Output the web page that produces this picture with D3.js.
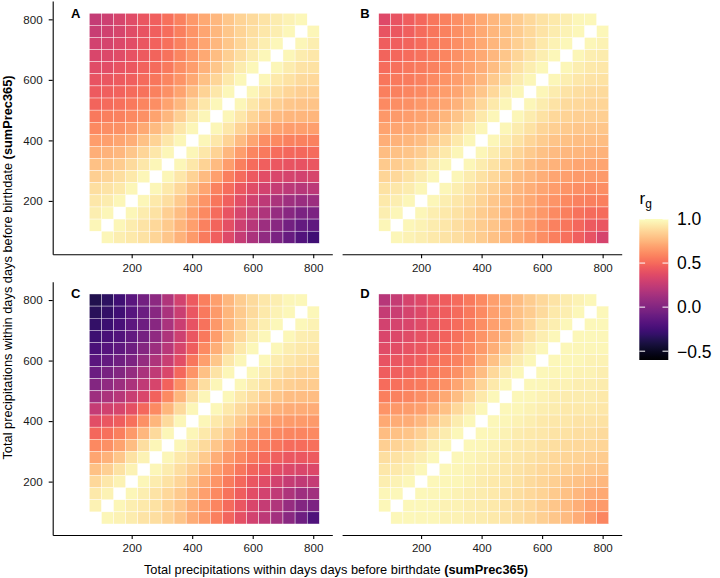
<!DOCTYPE html>
<html lang="en">
<head>
<meta charset="UTF-8">
<title>rg by precipitation window</title>
<script src="https://cdnjs.cloudflare.com/ajax/libs/d3/7.8.5/d3.min.js"></script>
<style>
    html, body { margin: 0; padding: 0; background: #fff; }
    svg { display: block; font-family: "Liberation Sans", Arial, Helvetica, sans-serif; }
</style>
</head>
<body>
<svg id="chart" width="720" height="578"></svg>
<script>
    // cell centres (mm), same bins on both axes
    const bins = [80, 120, 160, 200, 240, 280, 320, 360, 400, 440, 480, 520, 560, 600, 640, 680, 720, 760, 800];
    const axisTicks = [200, 400, 600, 800];
    const legendTicks = [1.0, 0.5, 0.0, -0.5];
    const panelLetters = ["A", "B", "C", "D"];
    const axisTitle = "Total precipitations within days days before birthdate ";
    const axisTitleBold = "(sumPrec365)";

    // rg values: rows go from 800 (top) down to 80, columns from 80 to 800; null = diagonal
    const rgA = [
        [.25,.29,.33,.37,.42,.46,.52,.58,.65,.71,.76,.81,.85,.88,.91,.94,.96,.98,null],
        [.27,.30,.33,.37,.41,.46,.51,.57,.64,.70,.76,.81,.85,.89,.92,.95,.98,null,.97],
        [.31,.32,.35,.38,.42,.47,.52,.58,.64,.70,.76,.81,.86,.91,.95,.98,null,.97,.95],
        [.34,.35,.37,.40,.44,.48,.53,.59,.65,.71,.78,.84,.89,.94,.98,null,.97,.94,.92],
        [.37,.38,.41,.43,.47,.50,.55,.62,.67,.74,.81,.88,.94,.98,null,.97,.94,.91,.90],
        [.41,.42,.44,.46,.50,.54,.59,.64,.71,.79,.86,.93,.98,null,.97,.93,.90,.88,.87],
        [.44,.46,.47,.50,.53,.58,.63,.69,.78,.85,.92,.98,null,.97,.92,.89,.86,.84,.84],
        [.48,.50,.52,.55,.59,.62,.69,.76,.85,.92,.98,null,.97,.92,.87,.84,.81,.80,.80],
        [.55,.57,.58,.60,.63,.69,.76,.84,.92,.97,null,.97,.92,.86,.81,.77,.75,.75,.75],
        [.60,.62,.63,.66,.71,.77,.84,.92,.97,null,.97,.92,.85,.79,.73,.69,.67,.68,.68],
        [.67,.68,.70,.73,.79,.85,.92,.97,null,.97,.92,.85,.77,.70,.62,.60,.58,.58,.58],
        [.73,.74,.76,.81,.86,.92,.97,null,.97,.92,.85,.76,.67,.59,.55,.51,.49,.49,.50],
        [.79,.80,.83,.88,.92,.97,null,.97,.92,.85,.77,.67,.57,.51,.46,.43,.41,.40,.42],
        [.84,.86,.89,.93,.97,null,.97,.92,.85,.77,.68,.57,.50,.44,.38,.34,.32,.31,.33],
        [.89,.91,.93,.97,null,.97,.93,.87,.79,.70,.58,.51,.43,.37,.31,.26,.22,.20,.22],
        [.92,.94,.97,null,.97,.93,.89,.82,.73,.64,.54,.46,.38,.30,.23,.16,.11,.09,.10],
        [.95,.97,null,.97,.94,.90,.84,.78,.69,.60,.50,.41,.33,.25,.17,.08,.02,-.03,-.02],
        [.97,null,.97,.94,.91,.87,.82,.75,.68,.58,.48,.39,.29,.20,.10,.02,-.06,-.12,-.14],
        [null,.97,.95,.93,.90,.86,.81,.74,.66,.56,.46,.36,.26,.16,.06,-.03,-.11,-.19,-.26]
    ];

    const rgB = [
        [.36,.41,.45,.49,.54,.58,.62,.66,.71,.75,.79,.83,.87,.90,.93,.95,.97,.98,null],
        [.41,.43,.46,.50,.54,.58,.62,.66,.71,.75,.79,.83,.87,.91,.94,.96,.98,null,.98],
        [.45,.46,.48,.51,.55,.58,.62,.66,.71,.75,.79,.84,.88,.93,.96,.98,null,.97,.96],
        [.48,.49,.51,.53,.56,.59,.63,.67,.71,.76,.81,.86,.91,.95,.98,null,.97,.95,.94],
        [.51,.52,.54,.56,.58,.61,.65,.69,.73,.78,.84,.90,.95,.98,null,.97,.95,.93,.92],
        [.54,.55,.56,.58,.61,.64,.67,.71,.76,.82,.88,.94,.97,null,.97,.95,.92,.91,.90],
        [.57,.58,.59,.61,.64,.67,.70,.75,.81,.87,.94,.97,null,.97,.94,.91,.89,.88,.88],
        [.61,.62,.63,.65,.68,.70,.74,.80,.87,.93,.97,null,.97,.94,.91,.88,.87,.86,.86],
        [.65,.66,.67,.69,.71,.75,.80,.86,.93,.97,null,.97,.94,.90,.87,.85,.84,.84,.84],
        [.69,.70,.71,.73,.76,.81,.87,.93,.97,null,.97,.94,.90,.86,.84,.82,.81,.81,.81],
        [.73,.74,.75,.78,.82,.87,.93,.97,null,.97,.94,.90,.86,.83,.80,.79,.78,.78,.78],
        [.78,.79,.80,.83,.88,.93,.97,null,.97,.94,.90,.86,.82,.79,.77,.76,.75,.74,.74],
        [.82,.83,.85,.89,.94,.97,null,.97,.94,.90,.86,.82,.78,.76,.74,.72,.70,.70,.70],
        [.86,.87,.90,.94,.97,null,.97,.94,.90,.87,.83,.78,.76,.73,.70,.68,.66,.66,.66],
        [.90,.92,.94,.97,null,.97,.95,.91,.87,.84,.79,.76,.73,.70,.67,.64,.62,.61,.62],
        [.93,.95,.97,null,.97,.95,.92,.89,.85,.81,.78,.74,.71,.67,.64,.60,.58,.57,.57],
        [.95,.97,null,.97,.95,.93,.90,.87,.83,.80,.76,.72,.69,.65,.61,.57,.53,.50,.50],
        [.97,null,.97,.96,.94,.92,.89,.86,.83,.80,.76,.72,.68,.63,.58,.54,.49,.44,.42],
        [null,.97,.96,.95,.93,.91,.89,.86,.83,.79,.75,.71,.67,.62,.57,.52,.46,.40,.32]
    ];

    const rgC = [
        [-.38,-.33,-.26,-.16,-.06,.04,.18,.31,.44,.57,.68,.76,.83,.88,.92,.95,.97,.98,null],
        [-.35,-.31,-.26,-.17,-.09,.02,.15,.28,.42,.55,.66,.75,.82,.88,.93,.96,.98,null,.98],
        [-.31,-.28,-.23,-.15,-.08,.02,.15,.28,.40,.53,.65,.75,.83,.90,.95,.98,null,.98,.96],
        [-.27,-.23,-.19,-.13,-.05,.05,.17,.29,.42,.55,.67,.79,.87,.94,.98,null,.98,.95,.94],
        [-.22,-.18,-.14,-.08,.01,.10,.21,.33,.45,.61,.73,.84,.93,.98,null,.98,.95,.93,.92],
        [-.16,-.12,-.07,-.02,.07,.17,.27,.38,.54,.68,.81,.92,.97,null,.98,.94,.92,.90,.89],
        [-.09,-.04,.00,.07,.15,.24,.34,.49,.64,.79,.91,.97,null,.98,.94,.91,.88,.86,.86],
        [.00,.05,.10,.16,.24,.33,.47,.62,.77,.89,.97,null,.98,.94,.90,.86,.84,.83,.83],
        [.11,.16,.20,.27,.34,.47,.61,.75,.89,.97,null,.98,.93,.89,.84,.81,.78,.78,.78],
        [.25,.30,.33,.39,.49,.61,.75,.88,.97,null,.98,.93,.88,.83,.77,.74,.72,.72,.72],
        [.38,.42,.45,.52,.63,.75,.88,.97,null,.97,.93,.88,.82,.75,.69,.67,.66,.66,.66],
        [.49,.52,.57,.66,.76,.88,.97,null,.97,.93,.88,.81,.73,.67,.64,.61,.59,.59,.60],
        [.60,.63,.69,.78,.89,.97,null,.97,.93,.88,.81,.72,.65,.60,.57,.54,.51,.51,.52],
        [.70,.74,.81,.90,.96,null,.97,.93,.89,.82,.73,.65,.60,.55,.50,.46,.43,.43,.44],
        [.79,.84,.90,.96,null,.97,.94,.89,.84,.75,.67,.61,.54,.48,.43,.38,.35,.34,.35],
        [.87,.92,.96,null,.97,.94,.90,.86,.79,.71,.64,.56,.49,.42,.37,.31,.26,.24,.25],
        [.93,.96,null,.97,.95,.91,.87,.82,.75,.68,.60,.53,.45,.38,.31,.24,.17,.11,.12],
        [.96,null,.97,.95,.93,.90,.85,.81,.73,.67,.59,.50,.42,.34,.26,.18,.08,.00,-.02],
        [null,.97,.96,.94,.91,.89,.85,.80,.72,.66,.57,.48,.39,.31,.23,.13,.03,-.08,-.20]
    ];

    const rgD = [
        [.20,.26,.32,.36,.41,.45,.50,.55,.61,.68,.73,.78,.83,.87,.91,.94,.96,.98,null],
        [.26,.28,.32,.36,.41,.45,.50,.55,.61,.68,.73,.79,.83,.88,.93,.95,.98,null,.98],
        [.31,.32,.34,.37,.41,.46,.51,.56,.62,.68,.73,.80,.86,.92,.95,.98,null,.98,.98],
        [.34,.35,.37,.40,.43,.47,.52,.58,.64,.70,.76,.84,.90,.95,.98,null,.98,.98,.97],
        [.37,.38,.40,.43,.46,.50,.55,.61,.66,.73,.81,.89,.95,.98,null,.98,.97,.97,.97],
        [.41,.42,.44,.46,.50,.54,.58,.63,.71,.79,.88,.94,.98,null,.98,.97,.97,.96,.96],
        [.45,.46,.48,.51,.54,.58,.63,.70,.78,.87,.94,.98,null,.98,.97,.97,.96,.96,.95],
        [.51,.52,.54,.56,.59,.63,.70,.77,.86,.93,.98,null,.98,.97,.96,.96,.95,.95,.94],
        [.57,.58,.59,.62,.65,.71,.78,.86,.93,.98,null,.98,.97,.96,.95,.94,.94,.94,.93],
        [.64,.65,.66,.68,.73,.79,.87,.93,.98,null,.98,.97,.96,.95,.94,.93,.93,.93,.92],
        [.71,.72,.72,.76,.81,.88,.94,.98,null,.98,.97,.96,.95,.93,.92,.92,.91,.91,.90],
        [.78,.79,.80,.84,.89,.94,.98,null,.98,.97,.96,.94,.93,.92,.91,.90,.89,.89,.88],
        [.84,.85,.87,.90,.95,.98,null,.98,.97,.96,.95,.93,.92,.90,.89,.88,.87,.87,.86],
        [.89,.90,.92,.95,.98,null,.98,.97,.96,.95,.93,.92,.90,.89,.87,.86,.85,.84,.83],
        [.92,.93,.95,.98,null,.98,.97,.96,.95,.94,.92,.91,.89,.87,.86,.84,.82,.81,.80],
        [.95,.96,.98,null,.98,.97,.97,.96,.94,.93,.92,.90,.88,.86,.84,.81,.79,.77,.76],
        [.97,.98,null,.98,.97,.97,.96,.95,.94,.93,.91,.89,.87,.85,.82,.79,.76,.72,.71],
        [.98,null,.98,.98,.97,.96,.96,.95,.94,.93,.91,.89,.87,.84,.81,.77,.73,.68,.66],
        [null,.98,.98,.97,.97,.96,.96,.95,.94,.93,.91,.89,.87,.84,.81,.77,.72,.66,.59]
    ];

    const svg = d3.select("#chart");

    const panelW = 279.6, panelH = 253.3;
    const panels = [
        {values: rgA, left: 52.7, top: 1, yAxis: true},
        {values: rgB, left: 342.1, top: 1, yAxis: false},
        {values: rgC, left: 52.7, top: 281.7, yAxis: true},
        {values: rgD, left: 342.1, top: 281.7, yAxis: false}
    ];

    const x = d3.scaleLinear().domain([-61, 863]).range([0, panelW]);
    const y = d3.scaleLinear().domain([23.6, 860.6]).range([panelH, 0]);
    const color = d3.scaleSequential(d3.interpolateMagma).domain([-0.6, 1.0]);
    const half = 20;
    const rowBins = bins.slice().reverse();

    function styleAxis(g) {
        g.attr("font-family", null).attr("font-size", 11.6);
        g.select(".domain").attr("stroke", "#000").attr("stroke-width", 1.1);
        g.selectAll(".tick line").attr("stroke", "#000").attr("stroke-width", 1.1);
        g.selectAll(".tick text").attr("fill", "#1a1a1a");
    }

    panels.forEach((p, i) => {
        const g = svg.append("g").attr("transform", `translate(${p.left},${p.top})`);

        const cells = [];
        p.values.forEach((row, r) => row.forEach((v, c) => {
            if (v !== null) cells.push({x: bins[c], y: rowBins[r], v: v});
        }));

        g.selectAll("rect.cell")
            .data(cells)
            .enter().append("rect")
            .attr("class", "cell")
            .attr("x", d => x(d.x - half))
            .attr("y", d => y(d.y + half))
            .attr("width", d => x(d.x + half) - x(d.x - half))
            .attr("height", d => y(d.y - half) - y(d.y + half))
            .attr("fill", d => color(d.v))
            .attr("stroke", "#fff")
            .attr("stroke-width", 0.4);

        g.append("g")
            .attr("transform", `translate(0,${panelH})`)
            .call(d3.axisBottom(x).tickValues(axisTicks).tickSize(4).tickSizeOuter(0).tickPadding(5))
            .call(styleAxis);

        if (p.yAxis) {
            g.append("g")
                .call(d3.axisLeft(y).tickValues(axisTicks).tickSize(4).tickSizeOuter(0).tickPadding(6))
                .call(styleAxis);
        }

        g.append("text")
            .attr("x", 18.2)
            .attr("y", 16.5)
            .attr("font-size", 13)
            .attr("font-weight", "bold")
            .attr("fill", "#000")
            .text(panelLetters[i]);
    });

    // axis titles
    const xTitle = svg.append("text")
        .attr("x", 336).attr("y", 573.5)
        .attr("text-anchor", "middle")
        .attr("font-size", 12.8).attr("fill", "#000");
    xTitle.append("tspan").text(axisTitle);
    xTitle.append("tspan").attr("font-weight", "bold").text(axisTitleBold);

    const yTitle = svg.append("text")
        .attr("transform", "translate(11.5,267.5) rotate(-90)")
        .attr("text-anchor", "middle")
        .attr("font-size", 12.8).attr("fill", "#000");
    yTitle.append("tspan").text(axisTitle);
    yTitle.append("tspan").attr("font-weight", "bold").text(axisTitleBold);

    // colour bar legend
    const barX = 639.3, barW = 29, barTop = 219, barBottom = 360;
    const legendY = d3.scaleLinear().domain([-0.6, 1.0]).range([barBottom, barTop]);

    const grad = svg.append("defs").append("linearGradient")
        .attr("id", "rg-grad")
        .attr("x1", 0).attr("y1", 1).attr("x2", 0).attr("y2", 0);
    d3.range(0, 1.0001, 0.02).forEach(t => {
        grad.append("stop").attr("offset", t).attr("stop-color", d3.interpolateMagma(t));
    });

    svg.append("rect")
        .attr("x", barX).attr("y", barTop)
        .attr("width", barW).attr("height", barBottom - barTop)
        .attr("fill", "url(#rg-grad)");

    const legendTick = svg.append("g").selectAll("g")
        .data(legendTicks)
        .enter().append("g")
        .attr("transform", d => `translate(0,${legendY(d)})`);
    legendTick.append("line")
        .attr("x1", barX).attr("x2", barX + 5.8)
        .attr("stroke", "#fff").attr("stroke-width", 1);
    legendTick.append("line")
        .attr("x1", barX + barW - 5.8).attr("x2", barX + barW)
        .attr("stroke", "#fff").attr("stroke-width", 1);
    legendTick.append("text")
        .attr("x", 677)
        .attr("dy", "0.36em")
        .attr("font-size", 17.5)
        .attr("fill", "#000")
        .text(d => d3.format(".1f")(d).replace("-", "\u2212"));

    const legendTitle = svg.append("text")
        .attr("x", 639.5).attr("y", 204)
        .attr("font-size", 17).attr("fill", "#000");
    legendTitle.append("tspan").text("r");
    legendTitle.append("tspan").attr("font-size", 12).attr("dy", 4).text("g");
</script>
</body>
</html>
